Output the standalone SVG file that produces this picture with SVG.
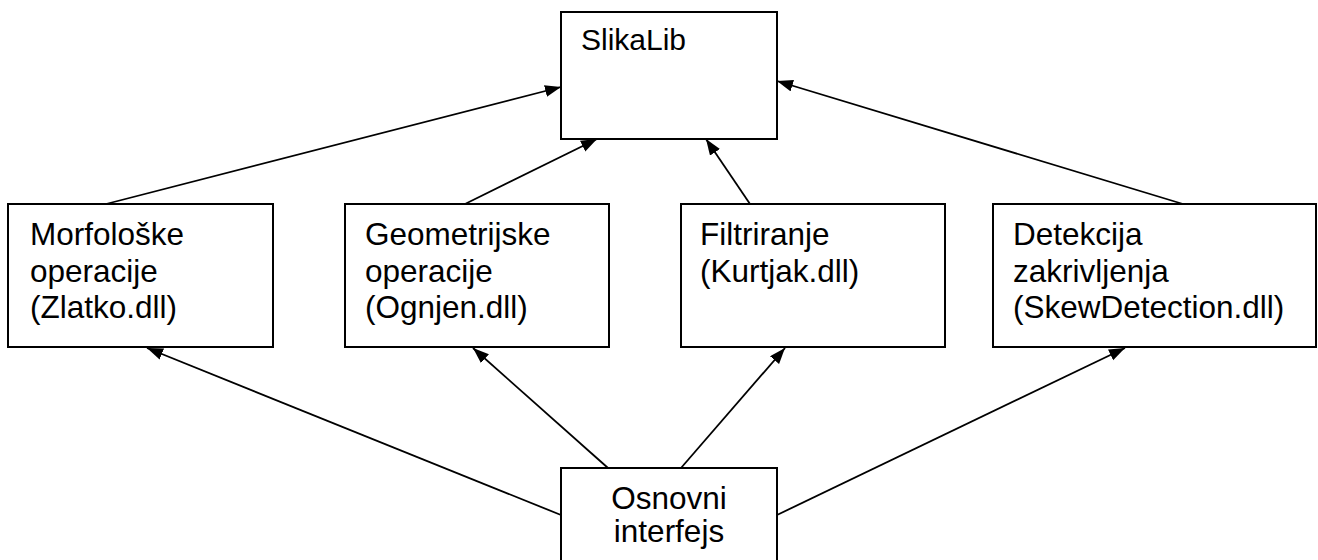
<svg xmlns="http://www.w3.org/2000/svg" width="1318" height="560" viewBox="0 0 1318 560">
<style>
.box{fill:#fff;stroke:#000;stroke-width:2}
.t{font-family:"Liberation Sans",Arial,sans-serif;font-size:31.5px;fill:#000}
.c{stroke:#000;stroke-width:1.8;fill:none;marker-end:url(#ah)}
</style>
<defs>
<marker id="ah" markerUnits="userSpaceOnUse" markerWidth="17" markerHeight="13" refX="16" refY="6" orient="auto">
<path d="M0,0 L16,6 L0,12 z" fill="#000"/>
</marker>
</defs>
<rect width="1318" height="560" fill="#fff"/>
<g id="connectors">
<line class="c" x1="106" y1="204" x2="561" y2="87"/>
<line class="c" x1="465" y1="204" x2="597" y2="139"/>
<line class="c" x1="750" y1="204" x2="706" y2="139"/>
<line class="c" x1="1183" y1="204" x2="777" y2="81"/>
<line class="c" x1="561" y1="515" x2="147" y2="348"/>
<line class="c" x1="608" y1="468" x2="473" y2="348"/>
<line class="c" x1="681" y1="468" x2="785" y2="348"/>
<line class="c" x1="777" y1="515" x2="1125" y2="348"/>
</g>
<g id="slikalib">
<rect class="box" x="561" y="12" width="216" height="127"/>
<text class="t" x="581" y="50" style="font-size:30px">SlikaLib</text>
</g>
<g id="morfoloske">
<rect class="box" x="8" y="204" width="265" height="143"/>
<text class="t" x="30" y="245">Morfološke</text>
<text class="t" x="30" y="281.5">operacije</text>
<text class="t" x="30" y="318">(Zlatko.dll)</text>
</g>
<g id="geometrijske">
<rect class="box" x="345" y="204" width="264" height="143"/>
<text class="t" x="365" y="245">Geometrijske</text>
<text class="t" x="365" y="281.5">operacije</text>
<text class="t" x="365" y="318">(Ognjen.dll)</text>
</g>
<g id="filtriranje">
<rect class="box" x="681" y="204" width="264" height="143"/>
<text class="t" x="700" y="245">Filtriranje</text>
<text class="t" x="700" y="281.5">(Kurtjak.dll)</text>
</g>
<g id="detekcija">
<rect class="box" x="993" y="204" width="323" height="143"/>
<text class="t" x="1013" y="245">Detekcija</text>
<text class="t" x="1013" y="281.5">zakrivljenja</text>
<text class="t" x="1013" y="318">(SkewDetection.dll)</text>
</g>
<g id="osnovni">
<rect class="box" x="561" y="468" width="216" height="100"/>
<text class="t" x="669" y="509" text-anchor="middle">Osnovni</text>
<text class="t" x="669" y="542" text-anchor="middle">interfejs</text>
</g>
</svg>
